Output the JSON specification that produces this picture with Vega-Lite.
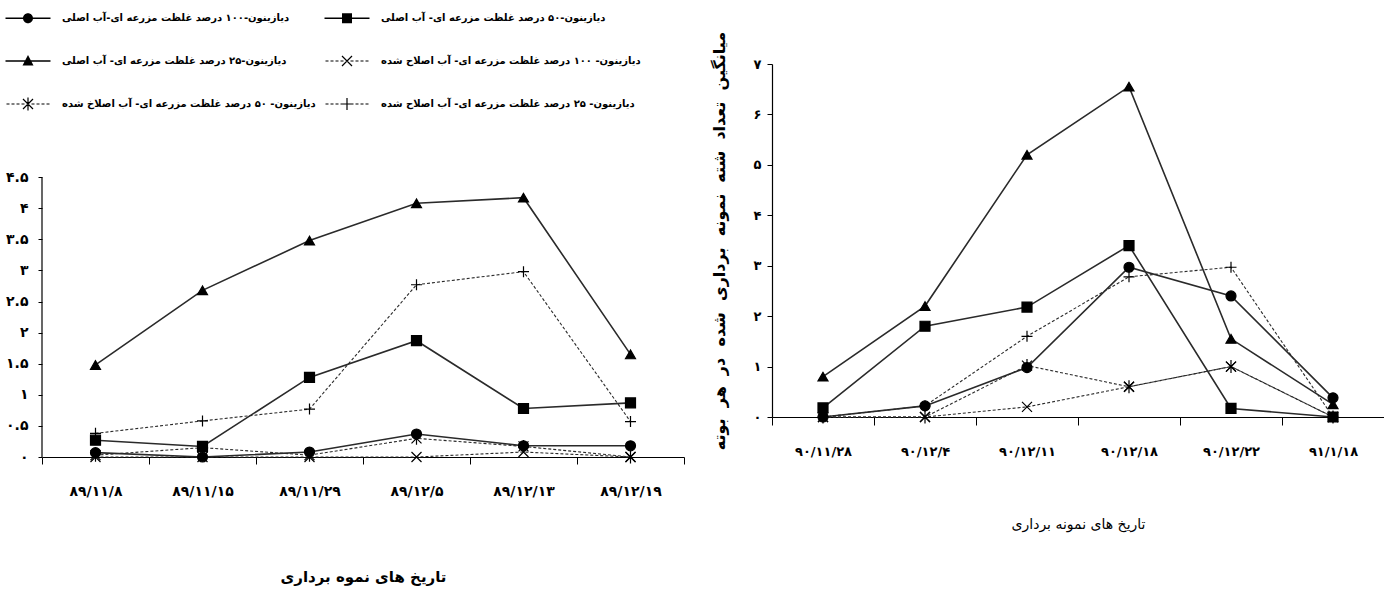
{
  "$schema": "https://vega.github.io/schema/vega-lite/v6.json",
  "background": "white",
  "padding": {"top": 12, "left": 5, "right": 5, "bottom": 5},
  "config": {
    "font": "DejaVu Sans",
    "view": {"stroke": null},
    "axis": {"grid": false, "domainColor": "black", "tickColor": "black", "labelColor": "black", "titleColor": "black", "labelFont": "DejaVu Sans", "titleFont": "DejaVu Sans", "domainWidth": 1.2, "tickWidth": 1},
    "line": {"color": "#2a2a2a"},
    "point": {"filled": true, "color": "black", "stroke": "black", "strokeWidth": 1.2, "opacity": 1, "size": 100}
  },
  "datasets": {
    "leftAxis": [{"date": "۸۹/۱۱/۸", "from": 0, "to": 4.5}],
    "left": [
      {"date": "۸۹/۱۱/۸", "series": "دیازینون-۱۰۰ درصد غلظت مزرعه ای-آب اصلی", "value": 0.07},
      {"date": "۸۹/۱۱/۱۵", "series": "دیازینون-۱۰۰ درصد غلظت مزرعه ای-آب اصلی", "value": 0.0},
      {"date": "۸۹/۱۱/۲۹", "series": "دیازینون-۱۰۰ درصد غلظت مزرعه ای-آب اصلی", "value": 0.08},
      {"date": "۸۹/۱۲/۵", "series": "دیازینون-۱۰۰ درصد غلظت مزرعه ای-آب اصلی", "value": 0.37},
      {"date": "۸۹/۱۲/۱۳", "series": "دیازینون-۱۰۰ درصد غلظت مزرعه ای-آب اصلی", "value": 0.18},
      {"date": "۸۹/۱۲/۱۹", "series": "دیازینون-۱۰۰ درصد غلظت مزرعه ای-آب اصلی", "value": 0.18},
      {"date": "۸۹/۱۱/۸", "series": "دیازینون-۵۰ درصد غلظت مزرعه ای- آب اصلی", "value": 0.27},
      {"date": "۸۹/۱۱/۱۵", "series": "دیازینون-۵۰ درصد غلظت مزرعه ای- آب اصلی", "value": 0.17},
      {"date": "۸۹/۱۱/۲۹", "series": "دیازینون-۵۰ درصد غلظت مزرعه ای- آب اصلی", "value": 1.28},
      {"date": "۸۹/۱۲/۵", "series": "دیازینون-۵۰ درصد غلظت مزرعه ای- آب اصلی", "value": 1.87},
      {"date": "۸۹/۱۲/۱۳", "series": "دیازینون-۵۰ درصد غلظت مزرعه ای- آب اصلی", "value": 0.78},
      {"date": "۸۹/۱۲/۱۹", "series": "دیازینون-۵۰ درصد غلظت مزرعه ای- آب اصلی", "value": 0.87},
      {"date": "۸۹/۱۱/۸", "series": "دیازینون-۲۵ درصد غلظت مزرعه ای- آب اصلی", "value": 1.48},
      {"date": "۸۹/۱۱/۱۵", "series": "دیازینون-۲۵ درصد غلظت مزرعه ای- آب اصلی", "value": 2.68},
      {"date": "۸۹/۱۱/۲۹", "series": "دیازینون-۲۵ درصد غلظت مزرعه ای- آب اصلی", "value": 3.48},
      {"date": "۸۹/۱۲/۵", "series": "دیازینون-۲۵ درصد غلظت مزرعه ای- آب اصلی", "value": 4.08},
      {"date": "۸۹/۱۲/۱۳", "series": "دیازینون-۲۵ درصد غلظت مزرعه ای- آب اصلی", "value": 4.17},
      {"date": "۸۹/۱۲/۱۹", "series": "دیازینون-۲۵ درصد غلظت مزرعه ای- آب اصلی", "value": 1.65},
      {"date": "۸۹/۱۱/۸", "series": "دیازینون- ۱۰۰ درصد غلظت مزرعه ای- آب اصلاح شده", "value": 0.0},
      {"date": "۸۹/۱۱/۱۵", "series": "دیازینون- ۱۰۰ درصد غلظت مزرعه ای- آب اصلاح شده", "value": 0.0},
      {"date": "۸۹/۱۱/۲۹", "series": "دیازینون- ۱۰۰ درصد غلظت مزرعه ای- آب اصلاح شده", "value": 0.0},
      {"date": "۸۹/۱۲/۵", "series": "دیازینون- ۱۰۰ درصد غلظت مزرعه ای- آب اصلاح شده", "value": 0.0},
      {"date": "۸۹/۱۲/۱۳", "series": "دیازینون- ۱۰۰ درصد غلظت مزرعه ای- آب اصلاح شده", "value": 0.08},
      {"date": "۸۹/۱۲/۱۹", "series": "دیازینون- ۱۰۰ درصد غلظت مزرعه ای- آب اصلاح شده", "value": 0.0},
      {"date": "۸۹/۱۱/۸", "series": "دیازینون- ۵۰ درصد غلظت مزرعه ای- آب اصلاخ شده", "value": 0.03},
      {"date": "۸۹/۱۱/۱۵", "series": "دیازینون- ۵۰ درصد غلظت مزرعه ای- آب اصلاخ شده", "value": 0.15},
      {"date": "۸۹/۱۱/۲۹", "series": "دیازینون- ۵۰ درصد غلظت مزرعه ای- آب اصلاخ شده", "value": 0.03},
      {"date": "۸۹/۱۲/۵", "series": "دیازینون- ۵۰ درصد غلظت مزرعه ای- آب اصلاخ شده", "value": 0.3},
      {"date": "۸۹/۱۲/۱۳", "series": "دیازینون- ۵۰ درصد غلظت مزرعه ای- آب اصلاخ شده", "value": 0.17},
      {"date": "۸۹/۱۲/۱۹", "series": "دیازینون- ۵۰ درصد غلظت مزرعه ای- آب اصلاخ شده", "value": 0.0},
      {"date": "۸۹/۱۱/۸", "series": "دیازینون- ۲۵ درصد غلظت مزرعه ای- آب اصلاح شده", "value": 0.38},
      {"date": "۸۹/۱۱/۱۵", "series": "دیازینون- ۲۵ درصد غلظت مزرعه ای- آب اصلاح شده", "value": 0.58},
      {"date": "۸۹/۱۱/۲۹", "series": "دیازینون- ۲۵ درصد غلظت مزرعه ای- آب اصلاح شده", "value": 0.77},
      {"date": "۸۹/۱۲/۵", "series": "دیازینون- ۲۵ درصد غلظت مزرعه ای- آب اصلاح شده", "value": 2.77},
      {"date": "۸۹/۱۲/۱۳", "series": "دیازینون- ۲۵ درصد غلظت مزرعه ای- آب اصلاح شده", "value": 2.98},
      {"date": "۸۹/۱۲/۱۹", "series": "دیازینون- ۲۵ درصد غلظت مزرعه ای- آب اصلاح شده", "value": 0.57}
    ],
    "right": [
      {"date": "۹۰/۱۱/۲۸", "series": "دیازینون-۱۰۰ درصد غلظت مزرعه ای-آب اصلی", "value": 0.0},
      {"date": "۹۰/۱۲/۴", "series": "دیازینون-۱۰۰ درصد غلظت مزرعه ای-آب اصلی", "value": 0.22},
      {"date": "۹۰/۱۲/۱۱", "series": "دیازینون-۱۰۰ درصد غلظت مزرعه ای-آب اصلی", "value": 0.98},
      {"date": "۹۰/۱۲/۱۸", "series": "دیازینون-۱۰۰ درصد غلظت مزرعه ای-آب اصلی", "value": 2.97},
      {"date": "۹۰/۱۲/۲۲", "series": "دیازینون-۱۰۰ درصد غلظت مزرعه ای-آب اصلی", "value": 2.4},
      {"date": "۹۱/۱/۱۸", "series": "دیازینون-۱۰۰ درصد غلظت مزرعه ای-آب اصلی", "value": 0.38},
      {"date": "۹۰/۱۱/۲۸", "series": "دیازینون-۵۰ درصد غلظت مزرعه ای- آب اصلی", "value": 0.18},
      {"date": "۹۰/۱۲/۴", "series": "دیازینون-۵۰ درصد غلظت مزرعه ای- آب اصلی", "value": 1.8},
      {"date": "۹۰/۱۲/۱۱", "series": "دیازینون-۵۰ درصد غلظت مزرعه ای- آب اصلی", "value": 2.18},
      {"date": "۹۰/۱۲/۱۸", "series": "دیازینون-۵۰ درصد غلظت مزرعه ای- آب اصلی", "value": 3.4},
      {"date": "۹۰/۱۲/۲۲", "series": "دیازینون-۵۰ درصد غلظت مزرعه ای- آب اصلی", "value": 0.17},
      {"date": "۹۱/۱/۱۸", "series": "دیازینون-۵۰ درصد غلظت مزرعه ای- آب اصلی", "value": 0.0},
      {"date": "۹۰/۱۱/۲۸", "series": "دیازینون-۲۵ درصد غلظت مزرعه ای- آب اصلی", "value": 0.8},
      {"date": "۹۰/۱۲/۴", "series": "دیازینون-۲۵ درصد غلظت مزرعه ای- آب اصلی", "value": 2.2},
      {"date": "۹۰/۱۲/۱۱", "series": "دیازینون-۲۵ درصد غلظت مزرعه ای- آب اصلی", "value": 5.2},
      {"date": "۹۰/۱۲/۱۸", "series": "دیازینون-۲۵ درصد غلظت مزرعه ای- آب اصلی", "value": 6.55},
      {"date": "۹۰/۱۲/۲۲", "series": "دیازینون-۲۵ درصد غلظت مزرعه ای- آب اصلی", "value": 1.55},
      {"date": "۹۱/۱/۱۸", "series": "دیازینون-۲۵ درصد غلظت مزرعه ای- آب اصلی", "value": 0.25},
      {"date": "۹۰/۱۱/۲۸", "series": "دیازینون- ۱۰۰ درصد غلظت مزرعه ای- آب اصلاح شده", "value": 0.0},
      {"date": "۹۰/۱۲/۴", "series": "دیازینون- ۱۰۰ درصد غلظت مزرعه ای- آب اصلاح شده", "value": 0.0},
      {"date": "۹۰/۱۲/۱۱", "series": "دیازینون- ۱۰۰ درصد غلظت مزرعه ای- آب اصلاح شده", "value": 0.2},
      {"date": "۹۰/۱۲/۱۸", "series": "دیازینون- ۱۰۰ درصد غلظت مزرعه ای- آب اصلاح شده", "value": 0.6},
      {"date": "۹۰/۱۲/۲۲", "series": "دیازینون- ۱۰۰ درصد غلظت مزرعه ای- آب اصلاح شده", "value": 1.0},
      {"date": "۹۱/۱/۱۸", "series": "دیازینون- ۱۰۰ درصد غلظت مزرعه ای- آب اصلاح شده", "value": 0.0},
      {"date": "۹۰/۱۱/۲۸", "series": "دیازینون- ۵۰ درصد غلظت مزرعه ای- آب اصلاخ شده", "value": 0.0},
      {"date": "۹۰/۱۲/۴", "series": "دیازینون- ۵۰ درصد غلظت مزرعه ای- آب اصلاخ شده", "value": 0.0},
      {"date": "۹۰/۱۲/۱۱", "series": "دیازینون- ۵۰ درصد غلظت مزرعه ای- آب اصلاخ شده", "value": 1.02},
      {"date": "۹۰/۱۲/۱۸", "series": "دیازینون- ۵۰ درصد غلظت مزرعه ای- آب اصلاخ شده", "value": 0.6},
      {"date": "۹۰/۱۲/۲۲", "series": "دیازینون- ۵۰ درصد غلظت مزرعه ای- آب اصلاخ شده", "value": 1.0},
      {"date": "۹۱/۱/۱۸", "series": "دیازینون- ۵۰ درصد غلظت مزرعه ای- آب اصلاخ شده", "value": 0.0},
      {"date": "۹۰/۱۱/۲۸", "series": "دیازینون- ۲۵ درصد غلظت مزرعه ای- آب اصلاح شده", "value": 0.0},
      {"date": "۹۰/۱۲/۴", "series": "دیازینون- ۲۵ درصد غلظت مزرعه ای- آب اصلاح شده", "value": 0.22},
      {"date": "۹۰/۱۲/۱۱", "series": "دیازینون- ۲۵ درصد غلظت مزرعه ای- آب اصلاح شده", "value": 1.6},
      {"date": "۹۰/۱۲/۱۸", "series": "دیازینون- ۲۵ درصد غلظت مزرعه ای- آب اصلاح شده", "value": 2.78},
      {"date": "۹۰/۱۲/۲۲", "series": "دیازینون- ۲۵ درصد غلظت مزرعه ای- آب اصلاح شده", "value": 2.97},
      {"date": "۹۱/۱/۱۸", "series": "دیازینون- ۲۵ درصد غلظت مزرعه ای- آب اصلاح شده", "value": 0.0}
    ]
  },
  "spacing": 26,
  "hconcat": [
    {
      "width": 642,
      "height": 393,
      "layer": [
        {
          "data": {"name": "leftAxis"},
          "mark": {"type": "rule", "color": "black", "strokeWidth": 1.2},
          "encoding": {
            "x": {"field": "date", "type": "nominal", "bandPosition": 0},
            "y": {"field": "from", "type": "quantitative"},
            "y2": {"field": "to"}
          }
        },
        {
          "data": {"name": "left"},
          "layer": [
            {"transform": [{"filter": {"field": "series", "oneOf": ["دیازینون-۱۰۰ درصد غلظت مزرعه ای-آب اصلی", "دیازینون-۵۰ درصد غلظت مزرعه ای- آب اصلی", "دیازینون-۲۵ درصد غلظت مزرعه ای- آب اصلی"]}}],
             "mark": {"type": "line", "strokeWidth": 1.6}, "encoding": {"detail": {"field": "series", "type": "nominal"}}},
            {"transform": [{"filter": {"field": "series", "oneOf": ["دیازینون- ۱۰۰ درصد غلظت مزرعه ای- آب اصلاح شده", "دیازینون- ۵۰ درصد غلظت مزرعه ای- آب اصلاخ شده", "دیازینون- ۲۵ درصد غلظت مزرعه ای- آب اصلاح شده"]}}],
             "mark": {"type": "line", "strokeWidth": 1.1, "strokeDash": [3, 2]}, "encoding": {"detail": {"field": "series", "type": "nominal"}}},
            {"transform": [{"filter": {"field": "series", "equal": "دیازینون-۱۰۰ درصد غلظت مزرعه ای-آب اصلی"}}], "mark": {"type": "point", "shape": "circle"}},
            {"transform": [{"filter": {"field": "series", "equal": "دیازینون-۵۰ درصد غلظت مزرعه ای- آب اصلی"}}], "mark": {"type": "point", "shape": "square"}},
            {"transform": [{"filter": {"field": "series", "equal": "دیازینون-۲۵ درصد غلظت مزرعه ای- آب اصلی"}}], "mark": {"type": "point", "shape": "triangle-up"}},
            {"transform": [{"filter": {"field": "series", "equal": "دیازینون- ۱۰۰ درصد غلظت مزرعه ای- آب اصلاح شده"}}], "mark": {"type": "point", "shape": "M-1,-1L1,1M-1,1L1,-1"}},
            {"transform": [{"filter": {"field": "series", "equal": "دیازینون- ۵۰ درصد غلظت مزرعه ای- آب اصلاخ شده"}}], "mark": {"type": "point", "shape": "M-1,-1L1,1M-1,1L1,-1M0,-1.3L0,1.3"}},
            {"transform": [{"filter": {"field": "series", "equal": "دیازینون- ۲۵ درصد غلظت مزرعه ای- آب اصلاح شده"}}], "mark": {"type": "point", "shape": "M-1.1,0L1.1,0M0,-1.1L0,1.1"}},
            {
              "transform": [{"filter": "false"}],
              "mark": {"type": "point"},
              "encoding": {
                "shape": {"field": "series", "type": "nominal",
                  "scale": {"domain": ["دیازینون-۱۰۰ درصد غلظت مزرعه ای-آب اصلی", "دیازینون-۵۰ درصد غلظت مزرعه ای- آب اصلی", "دیازینون-۲۵ درصد غلظت مزرعه ای- آب اصلی", "دیازینون- ۱۰۰ درصد غلظت مزرعه ای- آب اصلاح شده", "دیازینون- ۵۰ درصد غلظت مزرعه ای- آب اصلاخ شده", "دیازینون- ۲۵ درصد غلظت مزرعه ای- آب اصلاح شده"],
                    "range": [
                      "M-4.5,-0.15H4.5V0.15H-4.5ZM-1,0A1,1,0,1,1,1,0A1,1,0,1,1,-1,0Z",
                      "M-4.5,-0.15H4.5V0.15H-4.5ZM-1,-1H1V1H-1Z",
                      "M-4.5,-0.15H4.5V0.15H-4.5ZM0,-1.2L1.1,0.9H-1.1Z",
                      "M-4.3,-0.12H-3.7V0.12H-4.3ZM-3.3,-0.12H-2.7V0.12H-3.3ZM-2.3,-0.12H-1.7V0.12H-2.3ZM-1.3,-0.12H-0.7V0.12H-1.3ZM0.7,-0.12H1.3V0.12H0.7ZM1.7,-0.12H2.3V0.12H1.7ZM2.7,-0.12H3.3V0.12H2.7ZM3.7,-0.12H4.3V0.12H3.7ZM-0.915,-1.085L1.085,0.915L0.915,1.085L-1.085,-0.915ZM-1.085,0.915L0.915,-1.085L1.085,-0.915L-0.915,1.085Z",
                      "M-4.3,-0.12H-3.7V0.12H-4.3ZM-3.3,-0.12H-2.7V0.12H-3.3ZM-2.3,-0.12H-1.7V0.12H-2.3ZM-1.3,-0.12H-0.7V0.12H-1.3ZM0.7,-0.12H1.3V0.12H0.7ZM1.7,-0.12H2.3V0.12H1.7ZM2.7,-0.12H3.3V0.12H2.7ZM3.7,-0.12H4.3V0.12H3.7ZM-0.915,-1.085L1.085,0.915L0.915,1.085L-1.085,-0.915ZM-1.085,0.915L0.915,-1.085L1.085,-0.915L-0.915,1.085ZM-0.12,-1.3H0.12V1.3H-0.12Z",
                      "M-4.3,-0.12H-3.7V0.12H-4.3ZM-3.3,-0.12H-2.7V0.12H-3.3ZM-2.3,-0.12H-1.7V0.12H-2.3ZM-1.3,-0.12H-0.7V0.12H-1.3ZM0.7,-0.12H1.3V0.12H0.7ZM1.7,-0.12H2.3V0.12H1.7ZM2.7,-0.12H3.3V0.12H2.7ZM3.7,-0.12H4.3V0.12H3.7ZM-0.12,-1.2H0.12V1.2H-0.12ZM-1.2,-0.12H1.2V0.12H-1.2Z"
                    ]},
                  "legend": {"orient": "none", "legendX": -20, "legendY": -52, "title": null, "columns": 2, "direction": "horizontal",
                    "symbolSize": 100, "symbolFillColor": "black", "symbolStrokeColor": "black", "symbolStrokeWidth": 0, "symbolOpacity": 1,
                    "labelFont": "DejaVu Sans", "labelFontSize": 10, "labelFontWeight": "bold", "labelColor": "black", "labelLimit": 0, "labelOffset": 28,
                    "rowPadding": 26, "columnPadding": 6,
                    "encode": {"symbols": {"update": {"fill": {"value": "black"}, "opacity": {"value": 1}}}}}}
              }
            }
          ]
        }
      ],
      "encoding": {
        "x": {"field": "date", "type": "nominal", "sort": null, "scale": {"paddingInner": 0, "paddingOuter": 0},
          "axis": {"title": "تاریخ های نموه برداری", "labelAngle": 0, "tickBand": "extent", "tickSize": 7, "labelPadding": 20, "labelFontSize": 14, "labelFontWeight": "bold", "titleFontSize": 15, "titleFontWeight": "bold", "titlePadding": 71}},
        "y": {"field": "value", "type": "quantitative", "scale": {"domain": [0, 6.32], "nice": false},
          "axis": {"title": null, "domain": false, "values": [0, 0.5, 1, 1.5, 2, 2.5, 3, 3.5, 4, 4.5], "format": ".1~f", "tickSize": 4, "labelPadding": 10, "labelFontSize": 14, "labelFontWeight": "bold",
            "labelExpr": "replace(replace(replace(replace(replace(replace(replace(replace(replace(replace(datum.label,'0','۰'),'1','۱'),'2','۲'),'3','۳'),'4','۴'),'5','۵'),'6','۶'),'7','۷'),'8','۸'),'9','۹')"}}
      }
    },
    {
      "width": 612,
      "height": 353,
      "data": {"name": "right"},
      "encoding": {
        "x": {"field": "date", "type": "nominal", "sort": null, "scale": {"paddingInner": 0, "paddingOuter": 0},
          "axis": {"title": "تاریخ های نمونه برداری", "labelAngle": 0, "tickBand": "extent", "tickSize": 8, "labelPadding": 20, "labelFontSize": 13, "labelFontWeight": "bold", "titleFontSize": 14, "titleFontWeight": "normal", "titlePadding": 59}},
        "y": {"field": "value", "type": "quantitative", "scale": {"domain": [0, 7], "nice": false},
          "axis": {"title": "میانگین\u00a0 تعداد\u00a0 شته\u00a0 نمونه\u00a0 برداری\u00a0 شده\u00a0 در\u00a0 هر\u00a0 بوته", "titleFontSize": 16, "titleFontWeight": "bold", "titlePadding": 26,
            "values": [0, 1, 2, 3, 4, 5, 6, 7], "tickSize": 5, "labelPadding": 6, "labelFontSize": 13, "labelFontWeight": "bold",
            "labelExpr": "replace(replace(replace(replace(replace(replace(replace(replace(replace(replace(datum.label,'0','۰'),'1','۱'),'2','۲'),'3','۳'),'4','۴'),'5','۵'),'6','۶'),'7','۷'),'8','۸'),'9','۹')"}}
      },
      "layer": [
        {"transform": [{"filter": {"field": "series", "oneOf": ["دیازینون-۱۰۰ درصد غلظت مزرعه ای-آب اصلی", "دیازینون-۵۰ درصد غلظت مزرعه ای- آب اصلی", "دیازینون-۲۵ درصد غلظت مزرعه ای- آب اصلی"]}}],
         "mark": {"type": "line", "strokeWidth": 1.6}, "encoding": {"detail": {"field": "series", "type": "nominal"}}},
        {"transform": [{"filter": {"field": "series", "oneOf": ["دیازینون- ۱۰۰ درصد غلظت مزرعه ای- آب اصلاح شده", "دیازینون- ۵۰ درصد غلظت مزرعه ای- آب اصلاخ شده", "دیازینون- ۲۵ درصد غلظت مزرعه ای- آب اصلاح شده"]}}],
         "mark": {"type": "line", "strokeWidth": 1.1, "strokeDash": [3, 2]}, "encoding": {"detail": {"field": "series", "type": "nominal"}}},
        {"transform": [{"filter": {"field": "series", "equal": "دیازینون-۱۰۰ درصد غلظت مزرعه ای-آب اصلی"}}], "mark": {"type": "point", "shape": "circle"}},
        {"transform": [{"filter": {"field": "series", "equal": "دیازینون-۵۰ درصد غلظت مزرعه ای- آب اصلی"}}], "mark": {"type": "point", "shape": "square"}},
        {"transform": [{"filter": {"field": "series", "equal": "دیازینون-۲۵ درصد غلظت مزرعه ای- آب اصلی"}}], "mark": {"type": "point", "shape": "triangle-up"}},
        {"transform": [{"filter": {"field": "series", "equal": "دیازینون- ۱۰۰ درصد غلظت مزرعه ای- آب اصلاح شده"}}], "mark": {"type": "point", "shape": "M-1,-1L1,1M-1,1L1,-1"}},
        {"transform": [{"filter": {"field": "series", "equal": "دیازینون- ۵۰ درصد غلظت مزرعه ای- آب اصلاخ شده"}}], "mark": {"type": "point", "shape": "M-1,-1L1,1M-1,1L1,-1M0,-1.3L0,1.3"}},
        {"transform": [{"filter": {"field": "series", "equal": "دیازینون- ۲۵ درصد غلظت مزرعه ای- آب اصلاح شده"}}], "mark": {"type": "point", "shape": "M-1.1,0L1.1,0M0,-1.1L0,1.1"}}
      ]
    }
  ]
}
